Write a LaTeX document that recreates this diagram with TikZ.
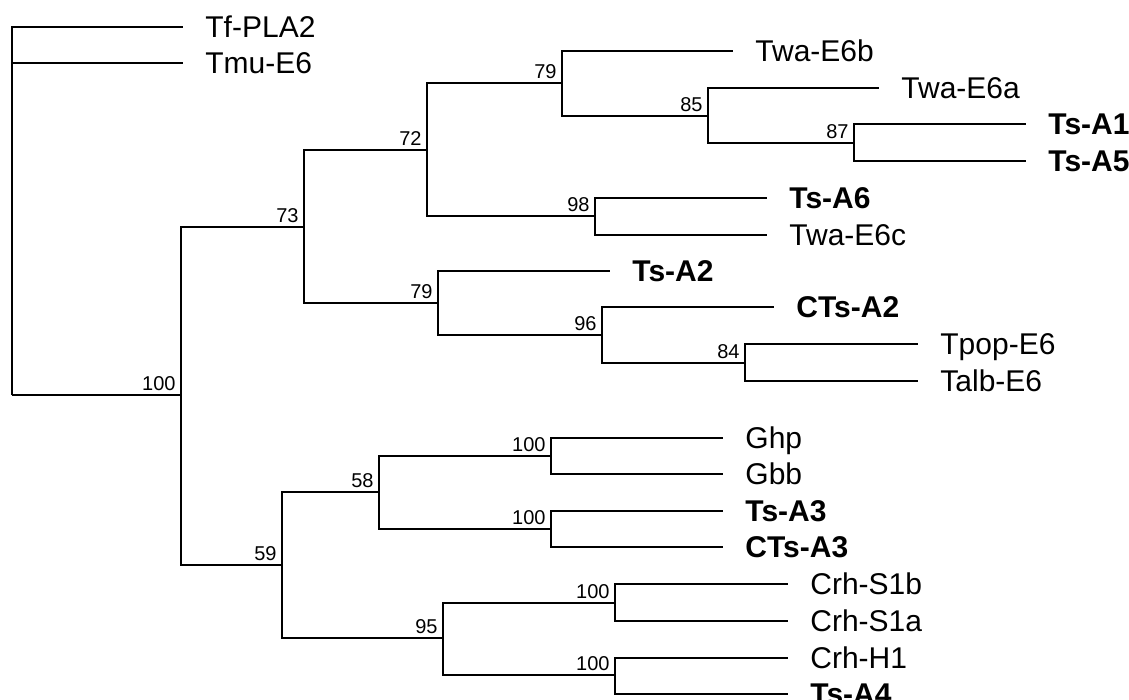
\documentclass[tikz,border=0pt]{standalone}
\usepackage{fontspec}
\setmainfont{Liberation Sans}
\begin{document}
\begin{tikzpicture}[x=0.5pt,y=-0.5pt,
  br/.style={line width=1.25pt},
  leaf/.style={anchor=west, inner xsep=11pt, inner ysep=0pt, text height=10.7pt, text depth=0pt, font=\fontsize{15}{18}\selectfont},
  bleaf/.style={leaf, font=\fontsize{15}{18}\selectfont\bfseries},
  bs/.style={anchor=base east, xshift=-2.5pt, yshift=2.3pt, inner sep=0pt, font=\fontsize{10}{12}\selectfont}]
\useasboundingbox (0,0) rectangle (1129,700);
% internal nodes
\coordinate (root) at (12,395);
\coordinate (n100) at (181,395);
\coordinate (n73) at (304,227);
\coordinate (n59) at (282,565);
\coordinate (n72) at (427,150);
\coordinate (n79a) at (562,83);
\coordinate (n85) at (708,116);
\coordinate (n87) at (854,143);
\coordinate (n98) at (595,216);
\coordinate (n79b) at (438,303);
\coordinate (n96) at (602,335);
\coordinate (n84) at (745,363);
\coordinate (n58) at (379,492);
\coordinate (n100g) at (551,456);
\coordinate (n100t) at (551,529);
\coordinate (n95) at (443,638);
\coordinate (n100c) at (615,603);
\coordinate (n100h) at (615,675);
% leaves
\node[leaf] (tf) at (183,27) {Tf-PLA2};
\node[leaf] (tmu) at (183,63) {Tmu-E6};
\node[leaf] (twab) at (733,51) {Twa-E6b};
\node[leaf] (twaa) at (879,88) {Twa-E6a};
\node[bleaf] (tsa1) at (1026,124) {Ts-A1};
\node[bleaf] (tsa5) at (1026,161) {Ts-A5};
\node[bleaf] (tsa6) at (767,198) {Ts-A6};
\node[leaf] (twac) at (767,235) {Twa-E6c};
\node[bleaf] (tsa2) at (610,271) {Ts-A2};
\node[bleaf] (ctsa2) at (774,307) {CTs-A2};
\node[leaf] (tpop) at (918,344) {Tpop-E6};
\node[leaf] (talb) at (918,381) {Talb-E6};
\node[leaf] (ghp) at (723,438) {Ghp};
\node[leaf] (gbb) at (723,474) {Gbb};
\node[bleaf] (tsa3) at (723,511) {Ts-A3};
\node[bleaf] (ctsa3) at (723,547) {CTs-A3};
\node[leaf] (crhb) at (788,584) {Crh-S1b};
\node[leaf] (crha) at (788,621) {Crh-S1a};
\node[leaf] (crhh) at (788,658) {Crh-H1};
\node[bleaf] (tsa4) at (788,694) {Ts-A4};
% branches
\draw[br] (root) |- (tf.west);
\draw[br] (root) |- (tmu.west);
\draw[br] (root) -- (n100);
\draw[br] (n100) |- (n73);
\draw[br] (n100) |- (n59);
\draw[br] (n73) |- (n72);
\draw[br] (n73) |- (n79b);
\draw[br] (n72) |- (n79a);
\draw[br] (n72) |- (n98);
\draw[br] (n79a) |- (twab.west);
\draw[br] (n79a) |- (n85);
\draw[br] (n85) |- (twaa.west);
\draw[br] (n85) |- (n87);
\draw[br] (n87) |- (tsa1.west);
\draw[br] (n87) |- (tsa5.west);
\draw[br] (n98) |- (tsa6.west);
\draw[br] (n98) |- (twac.west);
\draw[br] (n79b) |- (tsa2.west);
\draw[br] (n79b) |- (n96);
\draw[br] (n96) |- (ctsa2.west);
\draw[br] (n96) |- (n84);
\draw[br] (n84) |- (tpop.west);
\draw[br] (n84) |- (talb.west);
\draw[br] (n59) |- (n58);
\draw[br] (n59) |- (n95);
\draw[br] (n58) |- (n100g);
\draw[br] (n58) |- (n100t);
\draw[br] (n100g) |- (ghp.west);
\draw[br] (n100g) |- (gbb.west);
\draw[br] (n100t) |- (tsa3.west);
\draw[br] (n100t) |- (ctsa3.west);
\draw[br] (n95) |- (n100c);
\draw[br] (n95) |- (n100h);
\draw[br] (n100c) |- (crhb.west);
\draw[br] (n100c) |- (crha.west);
\draw[br] (n100h) |- (crhh.west);
\draw[br] (n100h) |- (tsa4.west);
% bootstrap values
\node[bs] (b100) at (n100) {100};
\node[bs] (b73) at (n73) {73};
\node[bs] (b72) at (n72) {72};
\node[bs] (b79a) at (n79a) {79};
\node[bs] (b85) at (n85) {85};
\node[bs] (b87) at (n87) {87};
\node[bs] (b98) at (n98) {98};
\node[bs] (b79b) at (n79b) {79};
\node[bs] (b96) at (n96) {96};
\node[bs] (b84) at (n84) {84};
\node[bs] (b59) at (n59) {59};
\node[bs] (b58) at (n58) {58};
\node[bs] (b100g) at (n100g) {100};
\node[bs] (b100t) at (n100t) {100};
\node[bs] (b95) at (n95) {95};
\node[bs] (b100c) at (n100c) {100};
\node[bs] (b100h) at (n100h) {100};
\end{tikzpicture}
\end{document}
